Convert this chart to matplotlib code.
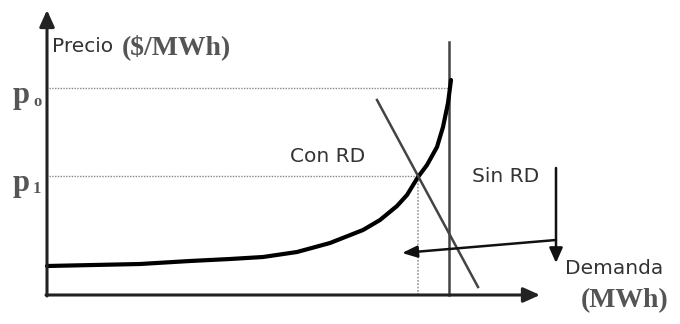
import numpy as np
import matplotlib
matplotlib.use("Agg")
import matplotlib.pyplot as plt

# supply curve (demand, price) in arbitrary units, origin at axes corner
curve_q = [0, 93, 143, 183, 216, 250, 283, 316, 333, 350, 360, 371, 380, 390, 396, 401, 404]
curve_p = [29, 31, 34, 36, 38, 43, 52, 65, 75, 89, 100, 118, 130, 148, 168, 192, 215]

p0 = 207
p1 = 119
q1 = 371           # demand at p1 (con RD)
q_cap = 402        # vertical capacity line
cap_top = 253

con_rd_q = [330, 431]
con_rd_p = [195, 8]

sin_rd_q = 509
sin_rd_p = [127, 32]
shift_from = (509, 55)
shift_to = (355, 42)

xmax_axis = 493
ymax_axis = 285

fig = plt.figure(figsize=(6.8, 3.24), dpi=100)
ax = fig.add_axes([0, 0, 1, 1])
ax.set_xlim(-47, 633)
ax.set_ylim(-29, 295)
ax.axis("off")

ax_col = "#444444"
# axes with arrows
ax.annotate("", xy=(0, ymax_axis), xytext=(0, -1),
            arrowprops=dict(arrowstyle="-|>,head_length=1.0,head_width=0.45", color="#222222", lw=2.2,
                            shrinkA=0, shrinkB=0))
ax.annotate("", xy=(xmax_axis, 0), xytext=(-1, 0),
            arrowprops=dict(arrowstyle="-|>,head_length=1.0,head_width=0.45", color="#222222", lw=2.2,
                            shrinkA=0, shrinkB=0))

# dotted guide lines
ax.plot([2, q_cap], [p0, p0], ls=(0, (1, 1)), color="#888888", lw=1.0)
ax.plot([2, q1], [p1, p1], ls=(0, (1, 1)), color="#888888", lw=1.0)
ax.plot([q1, q1], [0, p1], ls=(0, (1, 1)), color="#999999", lw=1.2)

# capacity line
ax.plot([q_cap, q_cap], [0, cap_top], color=ax_col, lw=1.8)

# supply curve
ax.plot(curve_q, curve_p, color="black", lw=3.0, solid_capstyle="round", solid_joinstyle="round")

# demand con RD
ax.plot(con_rd_q, con_rd_p, color=ax_col, lw=1.8)

# sin RD arrow down
ax.annotate("", xy=(sin_rd_q, sin_rd_p[1]), xytext=(sin_rd_q, sin_rd_p[0]),
            arrowprops=dict(arrowstyle="-|>,head_length=0.9,head_width=0.4", color="#111111", lw=1.8,
                            shrinkA=0, shrinkB=0))
# shift arrow
ax.annotate("", xy=shift_to, xytext=shift_from,
            arrowprops=dict(arrowstyle="-|>,head_length=0.9,head_width=0.35", color="#111111", lw=1.8,
                            shrinkA=0, shrinkB=0))

sans = "DejaVu Sans"
serif = "Liberation Serif"
tcol = "#333333"
scol = "#555555"
fs = 14.5

ax.text(5, 248, "Precio", fontsize=fs, family=sans, color=tcol, va="center", ha="left")
ax.text(75, 248, "($/MWh)", fontsize=20, family=serif, weight="bold", color=scol, va="center", ha="left")

ax.text(-34, 200, "p", fontsize=22, family=serif, weight="bold", color=scol, va="center", ha="left")
ax.text(-14, 193, "o", fontsize=12, family=serif, weight="bold", color=scol, va="center", ha="left")
ax.text(-34, 112, "p", fontsize=22, family=serif, weight="bold", color=scol, va="center", ha="left")
ax.text(-14, 106, "1", fontsize=12, family=serif, weight="bold", color=scol, va="center", ha="left")

ax.text(243, 138, "Con RD", fontsize=fs, family=sans, color=tcol, va="center", ha="left")
ax.text(425, 119, "Sin RD", fontsize=fs, family=sans, color=tcol, va="center", ha="left")
ax.text(518, 27, "Demanda", fontsize=fs, family=sans, color=tcol, va="center", ha="left")
ax.text(534, -6, "(MWh)", fontsize=20, family=serif, weight="bold", color=scol, va="center", ha="left")

fig.savefig("out.png", dpi=100)
